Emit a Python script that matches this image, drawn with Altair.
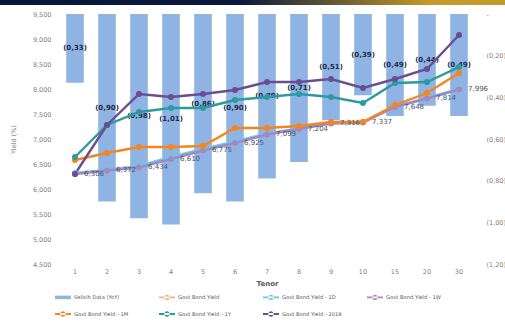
import altair as alt
import pandas as pd

# ---------------- data ----------------
tenor = ["1", "2", "3", "4", "5", "6", "7", "8", "9", "10", "15", "20", "30"]
selisih = [-0.33, -0.90, -0.98, -1.01, -0.86, -0.90, -0.79, -0.71, -0.51, -0.39, -0.49, -0.44, -0.49]
gby = [6.306, 6.372, 6.434, 6.610, 6.775, 6.925, 7.099, 7.204, 7.316, 7.337, 7.648, 7.814, 7.996]
y_1d = [6.32, 6.38, 6.46, 6.64, 6.80, 6.95, 7.11, 7.21, 7.32, 7.34, 7.65, 7.82, 8.00]
y_1w = [6.30, 6.37, 6.43, 6.60, 6.77, 6.92, 7.09, 7.20, 7.31, 7.33, 7.64, 7.81, 7.99]
y_1m = [6.58, 6.72, 6.84, 6.84, 6.86, 7.22, 7.22, 7.26, 7.34, 7.34, 7.68, 7.92, 8.32]
y_1y = [6.64, 7.28, 7.54, 7.62, 7.62, 7.78, 7.84, 7.90, 7.84, 7.72, 8.12, 8.14, 8.44]
y_2018 = [6.30, 7.28, 7.90, 7.84, 7.90, 7.98, 8.14, 8.14, 8.20, 8.02, 8.20, 8.40, 9.08]

series_names = ["Selisih Data (YoY)", "Govt Bond Yield", "Govt Bond Yield - 1D",
                "Govt Bond Yield - 1W", "Govt Bond Yield - 1M", "Govt Bond Yield - 1Y",
                "Govt Bond Yield - 2018"]
series_colors = ["#8fb4e3", "#f4b183", "#6cc8da", "#9f88c8", "#f5861f", "#2c9aa2", "#6a4d92"]

left_ticks = [4.5, 5.0, 5.5, 6.0, 6.5, 7.0, 7.5, 8.0, 8.5, 9.0, 9.5]
right_ticks = [0, -0.2, -0.4, -0.6, -0.8, -1.0, -1.2]

# ---------------- tables ----------------
bar_df = pd.DataFrame({
    "tenor": tenor,
    "selisih": selisih,
    "mid": [v / 2 for v in selisih],
    "blabel": ["(" + f"{abs(v):.2f}".replace(".", ",") + ")" for v in selisih],
})

line_series = [
    ("Govt Bond Yield", gby), ("Govt Bond Yield - 1D", y_1d), ("Govt Bond Yield - 1W", y_1w),
    ("Govt Bond Yield - 1M", y_1m), ("Govt Bond Yield - 1Y", y_1y), ("Govt Bond Yield - 2018", y_2018),
]
rows = []
for k, (name, vals) in enumerate(line_series):
    for i, (t, v) in enumerate(zip(tenor, vals)):
        rows.append({"tenor": t, "series": name, "value": v, "ord": k * 100 + i})
line_df = pd.DataFrame(rows)

lab_df = pd.DataFrame({
    "tenor": tenor,
    "value": gby,
    "label": [f"{v:.3f}".replace(".", ",") for v in gby],
})

legend_df = pd.DataFrame({"series": series_names})

# ---------------- encodings ----------------
FONT = "DejaVu Sans"
GREY = "#7f7f7f"

x_axis = alt.Axis(title="Tenor", labelAngle=0, labelFontSize=6.5, labelColor=GREY, labelFont=FONT,
                  labelPadding=4, titleFontSize=7, titleColor="#595959", titleFont=FONT,
                  titleFontWeight="bold", titlePadding=5, domain=False, ticks=False, grid=False)
x_enc = alt.X("tenor:N", sort=tenor, axis=x_axis,
              scale=alt.Scale(paddingInner=0.45, paddingOuter=0.225))

color_scale = alt.Scale(domain=series_names, range=series_colors)

line_path = ("M-1,-0.12L1,-0.12L1,0.12L-1,0.12Z "
             "M-0.34,0A0.34,0.34 0 1,0 0.34,0A0.34,0.34 0 1,0 -0.34,0Z")
bar_path = "M-1,-0.22L1,-0.22L1,0.22L-1,0.22Z"
shape_scale = alt.Scale(domain=series_names, range=[bar_path] + [line_path] * 6)

legend = alt.Legend(title=None, orient="none", legendX=-4, legendY=275, direction="horizontal",
                    columns=4, symbolSize=256, labelFontSize=5.2, labelFont=FONT,
                    labelColor="#595959", columnPadding=25, rowPadding=5, labelOffset=3,
                    gridAlign="all", padding=0, symbolStrokeWidth=0, labelLimit=0)

# ---------------- bars (right axis) ----------------
y_right = alt.Y("selisih:Q", scale=alt.Scale(domain=[-1.2, 0], nice=False, zero=False),
                axis=alt.Axis(orient="right", title=None, values=right_ticks,
                              labelExpr="datum.value == 0 ? '-' : '(' + replace(format(abs(datum.value), '.2f'), '.', ',') + ')'",
                              labelFontSize=6.5, labelColor=GREY, labelFont=FONT, labelPadding=11,
                              labelAlign="left", grid=False, domain=False, ticks=False))

bars = alt.Chart(bar_df).mark_bar(color=series_colors[0]).encode(
    x=x_enc, y=y_right, y2=alt.datum(0))

bar_text = alt.Chart(bar_df).mark_text(font=FONT, fontSize=7, fontWeight="bold",
                                       color="#1f2b45").encode(
    x=x_enc, y=alt.Y("mid:Q"), text="blabel:N")

band = alt.Chart(pd.DataFrame({"a": [0]})).mark_rect(
    color=alt.LinearGradient(gradient="linear", x1=0, x2=1, y1=0, y2=0, stops=[
        alt.GradientStop(color="#06163a", offset=0),
        alt.GradientStop(color="#0b1a3c", offset=0.48),
        alt.GradientStop(color="#c49a2c", offset=0.85),
        alt.GradientStop(color="#c49a2c", offset=1),
    ])).encode(x=alt.value(-59), x2=alt.value(446), y=alt.value(-14), y2=alt.value(-9))

bar_layer = alt.layer(bars, bar_text, band)

# ---------------- lines (left axis) ----------------
y_left = alt.Y("value:Q", scale=alt.Scale(domain=[4.5, 9.5], nice=False, zero=False),
               axis=alt.Axis(title="Yield (%)", values=left_ticks,
                             labelExpr="replace(format(datum.value, '.3f'), '.', ',')",
                             labelFontSize=6.5, labelColor=GREY, labelFont=FONT, labelPadding=8,
                             titleFontSize=6.5, titleColor=GREY, titleFont=FONT,
                             titleFontWeight="normal", titlePadding=16,
                             grid=True, gridColor="white", gridWidth=1,
                             domain=False, ticks=False))

lines = alt.Chart(line_df).mark_line(strokeWidth=2.4).encode(
    x=x_enc, y=y_left,
    color=alt.Color("series:N", scale=color_scale, legend=None),
    order=alt.Order("ord:Q"))

points = alt.Chart(line_df).mark_circle(size=36, opacity=1).encode(
    x=x_enc, y=y_left,
    color=alt.Color("series:N", scale=color_scale, legend=None))

labels = alt.Chart(lab_df).mark_text(font=FONT, fontSize=7, color="#44546a", align="left",
                                     dx=9, baseline="middle").encode(
    x=x_enc, y=y_left, text="label:N")

legend_layer = alt.Chart(legend_df).transform_filter("false").mark_point(
    filled=True, opacity=1).encode(
    color=alt.Color("series:N", scale=color_scale, legend=legend),
    shape=alt.Shape("series:N", scale=shape_scale, legend=legend))

line_layer = alt.layer(lines, points, labels, legend_layer).resolve_scale(
    color="independent", shape="independent")

chart = alt.layer(bar_layer, line_layer).resolve_scale(y="independent").properties(
    width=416, height=250,
    autosize=alt.AutoSizeParams(type="none"),
    padding={"left": 59, "top": 14, "right": 30, "bottom": 60},
    background="white",
).configure_view(stroke=None, fill="#e9eef6")

chart.save("out.html", embed_options={"renderer": "svg", "actions": False})
